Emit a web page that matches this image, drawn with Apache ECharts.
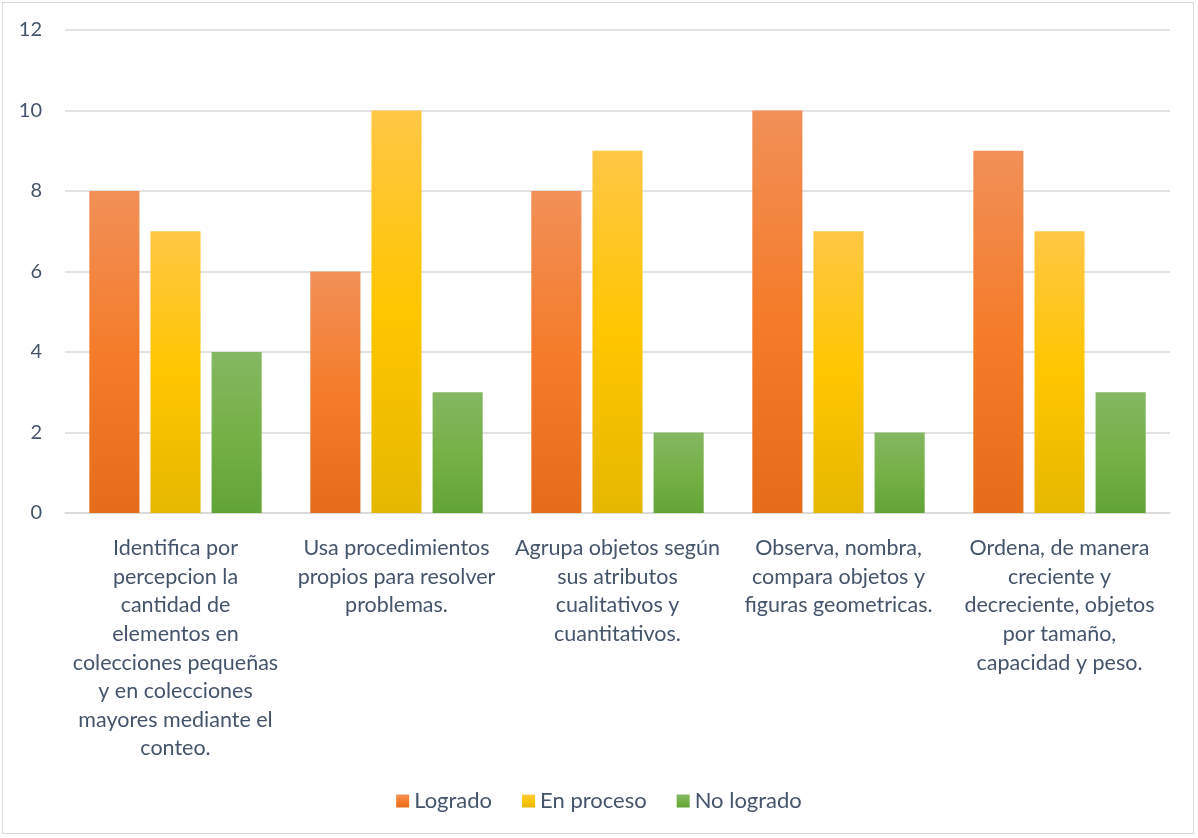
<!DOCTYPE html>
<html>
<head>
<meta charset="utf-8">
<script src="https://cdn.jsdelivr.net/npm/echarts@6/dist/echarts.min.js"></script>
<style>
html,body{margin:0;padding:0;background:#fff;}
#wrap{position:absolute;left:2px;top:2px;width:1192px;height:832px;border:1.5px solid #D9D9D9;box-sizing:border-box;}
#c{position:absolute;left:0;top:0;width:1198px;height:838px;}
</style>
</head>
<body>
<div id="wrap"></div>
<div id="c"></div>
<script>
const categories = [
  "Identifica por\npercepcion la\ncantidad de\nelementos en\ncolecciones pequeñas\ny en colecciones\nmayores mediante el\nconteo.",
  "Usa procedimientos\npropios para resolver\nproblemas.",
  "Agrupa objetos según\nsus atributos\ncualitativos y\ncuantitativos.",
  "Observa, nombra,\ncompara objetos y\nfiguras geometricas.",
  "Ordena, de manera\ncreciente y\ndecreciente, objetos\npor tamaño,\ncapacidad y peso."
];
const seriesNames = ["Logrado", "En proceso", "No logrado"];
const logrado = [8, 6, 8, 10, 9];
const enProceso = [7, 10, 9, 7, 7];
const noLogrado = [4, 3, 2, 2, 3];
const yTicks = { min: 0, max: 12, interval: 2 };

function grad(top, mid, bot) {
  return new echarts.graphic.LinearGradient(0, 0, 0, 1, [
    { offset: 0, color: top }, { offset: 0.5, color: mid }, { offset: 1, color: bot }
  ]);
}
const colors = [
  grad('#F19058', '#F47C2A', '#E46C1A'),
  grad('#FFC745', '#FFC600', '#E5B800'),
  grad('#84B762', '#76B147', '#62A337')
];
const font = 'Lato, "Open Sans", sans-serif';
const textColor = '#44546A';
const chart = echarts.init(document.getElementById('c'), null, { renderer: 'canvas' });
const values = [logrado, enProceso, noLogrado];
chart.setOption({
  animation: false,
  textStyle: { fontFamily: font },
  grid: { left: 65, right: 28, top: 30, bottom: 325 },
  legend: {
    bottom: 21, left: 'center',
    itemWidth: 13, itemHeight: 13, itemGap: 30,
    icon: 'rect',
    textStyle: { color: textColor, fontSize: 22, fontFamily: font },
    data: seriesNames
  },
  xAxis: {
    type: 'category', data: categories,
    axisLine: { lineStyle: { color: '#D9D9D9', width: 1.5 } },
    axisTick: { show: false },
    axisLabel: { color: textColor, fontSize: 21.5, lineHeight: 28.6, interval: 0, margin: 21, fontFamily: font, verticalAlign: 'top' }
  },
  yAxis: {
    type: 'value', min: yTicks.min, max: yTicks.max, interval: yTicks.interval,
    axisLine: { show: false }, axisTick: { show: false },
    splitLine: { lineStyle: { color: '#D9D9D9', width: 1.5 } },
    axisLabel: { color: textColor, fontSize: 20, margin: 23, fontFamily: font }
  },
  series: seriesNames.map((n, i) => ({
    name: n, type: 'bar', data: values[i],
    barGap: '22%', barCategoryGap: '22%',
    itemStyle: { color: colors[i] }
  }))
});
</script>
</body>
</html>
